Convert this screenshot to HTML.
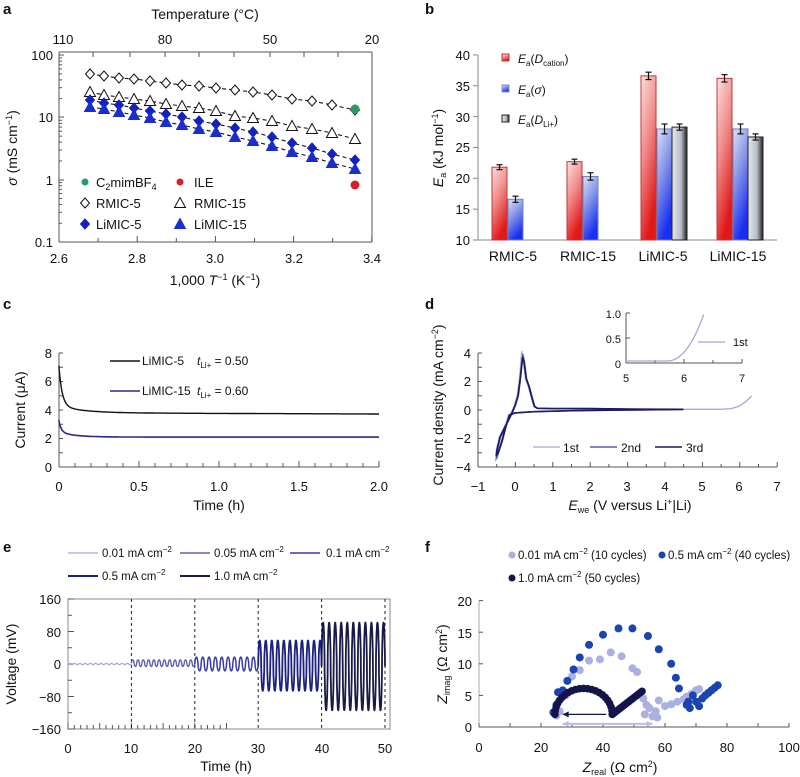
<!DOCTYPE html>
<html><head><meta charset="utf-8"><style>
html,body{margin:0;padding:0;background:#fff}
svg{display:block;font-family:"Liberation Sans",sans-serif;font-size:13px}
text{fill:#111}
.pl{font-weight:bold;font-size:15px}
</style></head><body>
<svg id="s" width="800" height="777" viewBox="0 0 800 777" xmlns="http://www.w3.org/2000/svg">
<defs>
<linearGradient id="gr" x1="0" y1="0" x2="0.4" y2="1"><stop offset="0" stop-color="#fbe0e0"/><stop offset="0.5" stop-color="#f08888"/><stop offset="1" stop-color="#e01818"/></linearGradient>
<linearGradient id="gb" x1="0" y1="0" x2="0.4" y2="1"><stop offset="0" stop-color="#dde2f4"/><stop offset="0.5" stop-color="#8090e8"/><stop offset="1" stop-color="#1a2ef0"/></linearGradient>
<linearGradient id="gk" x1="0" y1="0" x2="1" y2="0"><stop offset="0" stop-color="#e4e8f0"/><stop offset="0.6" stop-color="#b8bcc8"/><stop offset="1" stop-color="#202020"/></linearGradient>
</defs>
<g id="g"></g>
<text class="pl" x="3" y="14">a</text>
<text class="pl" x="425" y="14">b</text>
<text class="pl" x="3" y="309">c</text>
<text class="pl" x="425" y="309">d</text>
<text class="pl" x="3" y="552">e</text>
<text class="pl" x="425" y="552">f</text>

<text x="205" y="19" text-anchor="middle" font-size="14">Temperature (°C)</text>
<text x="63" y="44" text-anchor="middle">110</text>
<text x="165" y="44" text-anchor="middle">80</text>
<text x="270" y="44" text-anchor="middle">50</text>
<text x="372" y="44" text-anchor="middle">20</text>
<text x="53" y="60" text-anchor="end">100</text>
<text x="53" y="122" text-anchor="end">10</text>
<text x="53" y="185" text-anchor="end">1</text>
<text x="53" y="247" text-anchor="end">0.1</text>
<text x="59" y="263" text-anchor="middle">2.6</text>
<text x="137" y="263" text-anchor="middle">2.8</text>
<text x="215" y="263" text-anchor="middle">3.0</text>
<text x="294" y="263" text-anchor="middle">3.2</text>
<text x="372" y="263" text-anchor="middle">3.4</text>
<text x="215" y="285" text-anchor="middle" font-size="14">1,000 <tspan font-style="italic">T</tspan><tspan dy="-5" font-size="9">−1</tspan><tspan dy="5"> (K</tspan><tspan dy="-5" font-size="9">−1</tspan><tspan dy="5">)</tspan></text>
<text transform="translate(17,148) rotate(-90)" text-anchor="middle" font-size="14"><tspan font-style="italic">σ</tspan> (mS cm<tspan dy="-5" font-size="9">−1</tspan><tspan dy="5">)</tspan></text>
<text x="96" y="187">C<tspan dy="3" font-size="9">2</tspan><tspan dy="-3">mimBF</tspan><tspan dy="3" font-size="9">4</tspan></text>
<text x="194" y="187">ILE</text>
<text x="96" y="208">RMIC-5</text>
<text x="194" y="208">RMIC-15</text>
<text x="96" y="229">LiMIC-5</text>
<text x="194" y="229">LiMIC-15</text>

<text x="470" y="60" text-anchor="end">40</text>
<text x="470" y="91" text-anchor="end">35</text>
<text x="470" y="122" text-anchor="end">30</text>
<text x="470" y="152" text-anchor="end">25</text>
<text x="470" y="183" text-anchor="end">20</text>
<text x="470" y="214" text-anchor="end">15</text>
<text x="470" y="245" text-anchor="end">10</text>
<text x="513" y="261" text-anchor="middle" font-size="14">RMIC-5</text>
<text x="588" y="261" text-anchor="middle" font-size="14">RMIC-15</text>
<text x="663" y="261" text-anchor="middle" font-size="14">LiMIC-5</text>
<text x="738" y="261" text-anchor="middle" font-size="14">LiMIC-15</text>
<text transform="translate(443,148) rotate(-90)" text-anchor="middle" font-size="14"><tspan font-style="italic">E</tspan><tspan dy="3" font-size="9">a</tspan><tspan dy="-3"> (kJ mol</tspan><tspan dy="-5" font-size="9">−1</tspan><tspan dy="5">)</tspan></text>
<text x="518" y="63" font-size="12"><tspan font-style="italic">E</tspan><tspan dy="3" font-size="8">a</tspan><tspan dy="-3">(</tspan><tspan font-style="italic">D</tspan><tspan dy="3" font-size="8">cation</tspan><tspan dy="-3">)</tspan></text>
<text x="518" y="94" font-size="12"><tspan font-style="italic">E</tspan><tspan dy="3" font-size="8">a</tspan><tspan dy="-3">(</tspan><tspan font-style="italic">σ</tspan>)</text>
<text x="518" y="124" font-size="12"><tspan font-style="italic">E</tspan><tspan dy="3" font-size="8">a</tspan><tspan dy="-3">(</tspan><tspan font-style="italic">D</tspan><tspan dy="3" font-size="8">Li+</tspan><tspan dy="-3">)</tspan></text>

<text x="52" y="358" text-anchor="end">8</text>
<text x="52" y="386" text-anchor="end">6</text>
<text x="52" y="415" text-anchor="end">4</text>
<text x="52" y="443" text-anchor="end">2</text>
<text x="52" y="472" text-anchor="end">0</text>
<text x="59" y="491" text-anchor="middle">0</text>
<text x="139" y="491" text-anchor="middle">0.5</text>
<text x="219" y="491" text-anchor="middle">1.0</text>
<text x="299" y="491" text-anchor="middle">1.5</text>
<text x="379" y="491" text-anchor="middle">2.0</text>
<text x="219" y="510" text-anchor="middle" font-size="14">Time (h)</text>
<text transform="translate(25,410) rotate(-90)" text-anchor="middle" font-size="14">Current (μA)</text>
<text x="142" y="365" font-size="12">LiMIC-5</text>
<text x="197" y="365" font-size="12"><tspan font-style="italic">t</tspan><tspan dy="3" font-size="8">Li+</tspan><tspan dy="-3"> = 0.50</tspan></text>
<text x="142" y="395" font-size="12">LiMIC-15</text>
<text x="197" y="395" font-size="12"><tspan font-style="italic">t</tspan><tspan dy="3" font-size="8">Li+</tspan><tspan dy="-3"> = 0.60</tspan></text>

<text x="471" y="358" text-anchor="end">4</text>
<text x="471" y="386" text-anchor="end">2</text>
<text x="471" y="415" text-anchor="end">0</text>
<text x="471" y="443" text-anchor="end">−2</text>
<text x="471" y="472" text-anchor="end">−4</text>
<text x="478" y="491" text-anchor="middle">−1</text>
<text x="515" y="491" text-anchor="middle">0</text>
<text x="553" y="491" text-anchor="middle">1</text>
<text x="590" y="491" text-anchor="middle">2</text>
<text x="627" y="491" text-anchor="middle">3</text>
<text x="665" y="491" text-anchor="middle">4</text>
<text x="702" y="491" text-anchor="middle">5</text>
<text x="739" y="491" text-anchor="middle">6</text>
<text x="777" y="491" text-anchor="middle">7</text>
<text x="630" y="510" text-anchor="middle" font-size="14"><tspan font-style="italic">E</tspan><tspan dy="3" font-size="9">we</tspan><tspan dy="-3"> (V versus Li</tspan><tspan dy="-5" font-size="9">+</tspan><tspan dy="5">|Li)</tspan></text>
<text transform="translate(443,405) rotate(-90)" text-anchor="middle" font-size="14">Current density (mA cm<tspan dy="-5" font-size="9">−2</tspan><tspan dy="5">)</tspan></text>
<text x="563" y="452" font-size="12">1st</text>
<text x="621" y="452" font-size="12">2nd</text>
<text x="686" y="452" font-size="12">3rd</text>
<text x="621" y="318" text-anchor="end" font-size="11">1.0</text>
<text x="621" y="343" text-anchor="end" font-size="11">0.5</text>
<text x="621" y="368" text-anchor="end" font-size="11">0</text>
<text x="626" y="382" text-anchor="middle" font-size="11">5</text>
<text x="684" y="382" text-anchor="middle" font-size="11">6</text>
<text x="742" y="382" text-anchor="middle" font-size="11">7</text>
<text x="733" y="346" font-size="11">1st</text>

<text x="102" y="557" font-size="11.5">0.01 mA cm<tspan dy="-5" font-size="8">−2</tspan></text>
<text x="214" y="557" font-size="11.5">0.05 mA cm<tspan dy="-5" font-size="8">−2</tspan></text>
<text x="326" y="557" font-size="11.5">0.1 mA cm<tspan dy="-5" font-size="8">−2</tspan></text>
<text x="102" y="580" font-size="11.5">0.5 mA cm<tspan dy="-5" font-size="8">−2</tspan></text>
<text x="214" y="580" font-size="11.5">1.0 mA cm<tspan dy="-5" font-size="8">−2</tspan></text>
<text x="61" y="604" text-anchor="end">160</text>
<text x="61" y="637" text-anchor="end">80</text>
<text x="61" y="669" text-anchor="end">0</text>
<text x="61" y="702" text-anchor="end">−80</text>
<text x="61" y="734" text-anchor="end">−160</text>
<text x="68" y="753" text-anchor="middle">0</text>
<text x="131" y="753" text-anchor="middle">10</text>
<text x="195" y="753" text-anchor="middle">20</text>
<text x="258" y="753" text-anchor="middle">30</text>
<text x="322" y="753" text-anchor="middle">40</text>
<text x="385" y="753" text-anchor="middle">50</text>
<text x="226" y="771" text-anchor="middle" font-size="14">Time (h)</text>
<text transform="translate(16,664) rotate(-90)" text-anchor="middle" font-size="14">Voltage (mV)</text>

<text x="518" y="559" font-size="11.5">0.01 mA cm<tspan dy="-5" font-size="8">−2</tspan><tspan dy="5"> (10 cycles)</tspan></text>
<text x="668" y="559" font-size="11.5">0.5 mA cm<tspan dy="-5" font-size="8">−2</tspan><tspan dy="5"> (40 cycles)</tspan></text>
<text x="518" y="582" font-size="11.5">1.0 mA cm<tspan dy="-5" font-size="8">−2</tspan><tspan dy="5"> (50 cycles)</tspan></text>
<text x="472" y="606" text-anchor="end">20</text>
<text x="472" y="638" text-anchor="end">15</text>
<text x="472" y="669" text-anchor="end">10</text>
<text x="472" y="701" text-anchor="end">5</text>
<text x="472" y="732" text-anchor="end">0</text>
<text x="479" y="752" text-anchor="middle">0</text>
<text x="541" y="752" text-anchor="middle">20</text>
<text x="603" y="752" text-anchor="middle">40</text>
<text x="665" y="752" text-anchor="middle">60</text>
<text x="727" y="752" text-anchor="middle">80</text>
<text x="789" y="752" text-anchor="middle">100</text>
<text x="620" y="772" text-anchor="middle" font-size="14"><tspan font-style="italic">Z</tspan><tspan dy="3" font-size="9">real</tspan><tspan dy="-3"> (Ω cm</tspan><tspan dy="-5" font-size="9">2</tspan><tspan dy="5">)</tspan></text>
<text transform="translate(447,664) rotate(-90)" text-anchor="middle" font-size="14"><tspan font-style="italic">Z</tspan><tspan dy="3" font-size="9">imag</tspan><tspan dy="-3"> (Ω cm</tspan><tspan dy="-5" font-size="9">2</tspan><tspan dy="5">)</tspan></text>
</svg>
<script>
var G=document.getElementById('g'),h='';
function L(x1,y1,x2,y2,c,w,extra){h+='<line x1="'+x1+'" y1="'+y1+'" x2="'+x2+'" y2="'+y2+'" stroke="'+(c||'#333')+'" stroke-width="'+(w||1)+'" '+(extra||'')+'/>';}
function P(d,c,w,extra){h+='<path d="'+d+'" fill="none" stroke="'+c+'" stroke-width="'+(w||1)+'" stroke-linejoin="round" '+(extra||'')+'/>';}
function C(x,y,r,f){h+='<circle cx="'+x+'" cy="'+y+'" r="'+r+'" fill="'+f+'"/>';}
function pts(a){return 'M'+a.map(function(p){return p[0].toFixed(1)+' '+p[1].toFixed(1)}).join(' L');}
var ax='#555';
L(59,52,59,242,ax);L(59,242,372,242,ax);L(372,52,372,242,ax);L(59,52,372,52,ax);
[55,117,180,242].forEach(function(y){L(59,y,64,y,ax)});
for(var d=0;d<3;d++)for(var k=2;k<10;k++){var y=242-(d+Math.log10(k))*62.3;L(59,y,62,y,ax);}
for(var i=0;i<=8;i++){var x=59+i*39.1;L(x,242,x,i%2?238:236,ax);}
[93,130,165,199,234,270,304,338].forEach(function(x){L(x,52,x,57,ax)});
var xs=[90,104,119,134,150,166,182,199,216,235,253,272,292,312,332,355];
var s1=[74,76,78,79,81,83,85,86,88,90,92,95,99,101,105,110],
 s2=[92,95,97,99,101,104,106,108,111,116,118,121,126,129,133,139],
 s3=[100,103,105,108,111,114,117,121,124,128,132,137,143,148,154,160],
 s4=[107,109,112,115,118,122,125,129,132,137,141,146,152,157,163,169];
[s1,s2,s3,s4].forEach(function(s){P(pts(xs.map(function(x,i){return [x,s[i]]})),'#111',1.1,'stroke-dasharray="4,3"');});
function dia(x,y,f){h+='<path d="M'+x+' '+(y-5)+' L'+(x+4.5)+' '+y+' L'+x+' '+(y+5)+' L'+(x-4.5)+' '+y+'Z" fill="'+f+'" stroke="'+(f=='#fff'?'#111':f)+'" stroke-width="1"/>';}
function tri(x,y,f){h+='<path d="M'+x+' '+(y-5.5)+' L'+(x+5.5)+' '+(y+4.5)+' L'+(x-5.5)+' '+(y+4.5)+'Z" fill="'+f+'" stroke="'+(f=='#fff'?'#111':f)+'" stroke-width="1"/>';}
xs.forEach(function(x,i){dia(x,s1[i],'#fff');tri(x,s2[i],'#fff');dia(x,s3[i],'#1420c0');tri(x,s4[i],'#1a2ed0');});
C(355,109,4.5,'#2a9a6a');C(355,185,4.5,'#d81e2a');
C(85,182,3.5,'#2a9a6a');C(180,182,3.5,'#d81e2a');dia(85,203,'#fff');tri(180,203,'#fff');dia(85,224,'#1420c0');tri(180,224,'#1a2ed0');
L(478,55,478,240,'#888');L(478,240,777,240,'#888');
for(var v=10;v<=40;v+=5){var y=240-(v-10)*6.17;L(478,y,473,y,'#888');}
function yb(v){return 240-(v-10)*6.17;}
var bars=[[492,'gr',21.8,.4],[508,'gb',16.6,.5],[567,'gr',22.7,.4],[583,'gb',20.3,.6],[641,'gr',36.6,.6],[657,'gb',28.0,.8],[672,'gk',28.3,.5],[717,'gr',36.2,.6],[733,'gb',28.0,.8],[748,'gk',26.7,.5]];
bars.forEach(function(b){var st=b[1]=='gr'?'#c03838':b[1]=='gb'?'#7080c0':'#222';var y=yb(b[2]);h+='<rect x="'+b[0]+'" y="'+y+'" width="15" height="'+(240-y)+'" fill="url(#'+b[1]+')" stroke="'+st+'" stroke-width="1"/>';var e=b[3]*6.17;L(b[0]+7.5,y-e,b[0]+7.5,y+e,'#111',1.2);L(b[0]+4.5,y-e,b[0]+10.5,y-e,'#111',1.2);L(b[0]+4.5,y+e,b[0]+10.5,y+e,'#111',1.2);});
h+='<rect x="502" y="54" width="7" height="7" fill="url(#gr)" stroke="#c03838"/><rect x="502" y="85" width="7" height="7" fill="url(#gb)" stroke="#8090d0"/><rect x="502" y="115" width="7" height="7" fill="url(#gk)" stroke="#222"/>';
L(59,353,59,467,'#555');L(59,467,379,467,'#555');
for(var i=0;i<=8;i++){var y=467-i*14.25;L(59,y,63,y,'#555');}
for(var i=0;i<=20;i++){var x=59+i*16;L(x,467,x,i%5?463:461,'#555');}
function cx(t){return 59+t*160;}function cy(v){return 467-v*14.25;}
var a1=[],a2=[];for(var t=0;t<=2.0001;t+=0.005){a1.push([cx(t),cy(3.8-0.04*t+0.5*Math.exp(-t/0.15)+2.7*Math.exp(-t/0.02))]);a2.push([cx(t),cy(2.1+0.35*Math.exp(-t/0.1)+0.75*Math.exp(-t/0.015))]);}
a1.unshift([cx(0),cy(7.1)]);a2.unshift([cx(0),cy(3.3)]);
P(pts(a1),'#111',1.4);P(pts(a2),'#2a2a88',1.6);
L(110,361,140,361,'#111',1.4);L(110,391,140,391,'#2a2a88',1.6);
L(478,353,478,467,'#555');L(478,467,777,467,'#555');
for(var i=0;i<=8;i++){var y=467-i*14.25;L(478,y,482,y,'#555');}
for(var i=0;i<=16;i++){var x=478+i*18.7;L(x,467,x,i%2?464:462,'#555');}
function dx(v){return 515+v*37.4;}function dy(v){return 410-v*14.25;}
function cv(s,o,ext){var b=[[4.5,0.04],[3,0.0],[1.5,-0.05],[0.5,-0.12],[0,-0.2],[-0.15,-0.35],[-0.25,-1.2],[-0.35,-2.2],[-0.45,-3.0],[-0.5,-3.3*s],[-0.48,-2.8],[-0.4,-1.9],[-0.25,-1.1],[-0.1,-0.3],[0,0.3],[0.08,1.0],[0.14,2.2],[0.2,3.8*s],[0.24,3.4],[0.3,2.2],[0.38,1.6],[0.45,0.9],[0.52,0.25],[0.6,0.12],[1,0.1],[2,0.1],[3,0.06],[4.5,0.05]];
if(ext){b=b.concat([[5.5,0.05],[5.8,0.1],[6.0,0.25],[6.2,0.6],[6.35,1.0]]);}
return pts(b.map(function(p){return [dx(p[0]+o),dy(p[1])]}));}
P(cv(1.08,-0.02,true),'#a8a8d8',1.3);P(cv(1.03,0.01),'#5a5ab8',1.4);P(cv(0.97,0.0),'#1a1a60',1.6);
L(533,447,560,447,'#a8a8d8',1.3);L(590,447,617,447,'#5a5ab8',1.4);L(655,447,682,447,'#1a1a60',1.6);
L(626,313,626,363,'#555');L(626,363,742,363,'#555');
[313,338,363].forEach(function(y){L(626,y,630,y,'#555')});
[626,655,684,713,742].forEach(function(x,i){L(x,363,x,i%2?360:359,'#555')});
var ins=[];for(var v=5;v<=6.35;v+=0.02){var j=0.04+(v>5.7?0.96*Math.pow((v-5.7)/0.65,2.2):0);ins.push([626+(v-5)*58,363-j*50]);}
P(pts(ins),'#a8a8d8',1.3);L(698,342,725,342,'#a8a8d8',1.3);
h+='<rect x="68" y="599" width="322" height="130" fill="none" stroke="#888"/>';
for(var i=0;i<=8;i++){var y=599+i*16.25;L(68,y,i%2?72:74,y,'#555');}
for(var i=0;i<=25;i++){var x=68+i*6.34;L(x,729,x,i%5?725:723,'#555');}
[10,20,30,40,50].forEach(function(t){var x=68+t*6.34;L(x,599,x,729,'#222',1,'stroke-dasharray="3,3"');});
function ex(t){return 68+t*6.34;}function ey(v){return 664-v*0.406;}
var segs=[[0,10,1.5,0,12,'#a8a8d8',1.2],[10,20,8,2,12,'#6060b0',1.4],[20,30,17,0,10,'#3a3aa8',1.5],[30,40,62,-4,10.5,'#1c2080',1.8],[40,50,108,-6,10.5,'#1a1a48',1.8]];
segs.forEach(function(s){var a=[];for(var t=s[0];t<=s[1]+0.0001;t+=0.02){var ph=(t-s[0])/(s[1]-s[0])*s[4]*2*Math.PI;var sv=Math.sin(ph);var v=s[3]+s[2]*(sv>=0?Math.pow(sv,0.6):-Math.pow(-sv,0.6));a.push([ex(t),ey(v)]);}P(pts(a),s[5],s[6]);});
[[68,553,'#a8a8d8',1.2],[180,553,'#6060b0',1.4],[290,553,'#3a3aa8',1.5],[68,576,'#1c2080',2],[180,576,'#1a1a48',2]].forEach(function(l){L(l[0],l[1],l[0]+30,l[1],l[2],l[3]);});
L(479,601,479,727,'#aaa');L(479,727,789,727,'#555');
for(var i=0;i<=10;i++){var x=479+i*31;L(x,727,x,723,'#555');}
for(var i=0;i<=4;i++){L(479,727-i*31.6,483,727-i*31.6,'#555');}
function fx(v){return 479+v*3.1;}function fy(v){return 727-v*6.32;}
var p01=[[25,1.8],[26,2.5],[28,5],[30,8],[32.5,9],[35.5,10.5],[39,10.7],[42.5,11.8],[46,11.2],[49.5,9.3],[51,8.7],[53,4.5],[54,3.5],[53.5,2],[56,1.7],[57,2.5],[58,4.2],[60,3.3],[62,3.6],[64,4],[66,4.4],[67,4.8],[68.5,5.2],[70,5.8],[71,6],[55,3],[57.5,1.5]];
var p05=[[24,2.3],[25,3.5],[25.5,5.5],[27,5.8],[28.5,7.3],[30.5,9.1],[32.5,11],[35.5,13],[40,14.6],[45,15.6],[49.5,15.6],[54.5,14.4],[58,12.3],[62,10],[63.5,7.8],[64.5,6.1],[67,3.5],[68,3],[69,5],[70,4],[71,3.3],[72,4.5],[73,5],[74,5.4],[75,5.8],[76,6.2],[77,6.6],[67.5,4]];
p01.forEach(function(p){C(fx(p[0]),fy(p[1]),4,'#aab0e0')});
p05.forEach(function(p){C(fx(p[0]),fy(p[1]),4,'#1a44b0')});
for(var th=0;th<=Math.PI;th+=Math.PI/22){var xr=33.75-9.25*Math.cos(th),yr=2+4.1*Math.sin(th);C(fx(xr),fy(yr),3.8,'#14144a');}
for(var z=43;z<=53;z+=0.6){C(fx(z),fy(2+(z-43)*0.38),3.8,'#14144a');}
h+='<path d="M'+fx(41)+' '+fy(2)+' L'+fx(27)+' '+fy(2)+'" stroke="#14144a" stroke-width="1.2"/><path d="M'+fx(27)+' '+fy(2)+' l6 -3 l0 6z" fill="#14144a"/>';
h+='<path d="M'+fx(27)+' '+fy(0.5)+' L'+fx(56)+' '+fy(0.5)+'" stroke="#b8bce4" stroke-width="2"/><path d="M'+fx(27)+' '+fy(0.5)+' l6 -3 l0 6z M'+fx(56)+' '+fy(0.5)+' l-6 -3 l0 6z" fill="#b8bce4"/>';
C(512,555,3.5,'#aab0e0');C(662,555,3.5,'#1a44b0');C(512,578,3.5,'#14144a');
G.innerHTML=h;
</script>
</body></html>
